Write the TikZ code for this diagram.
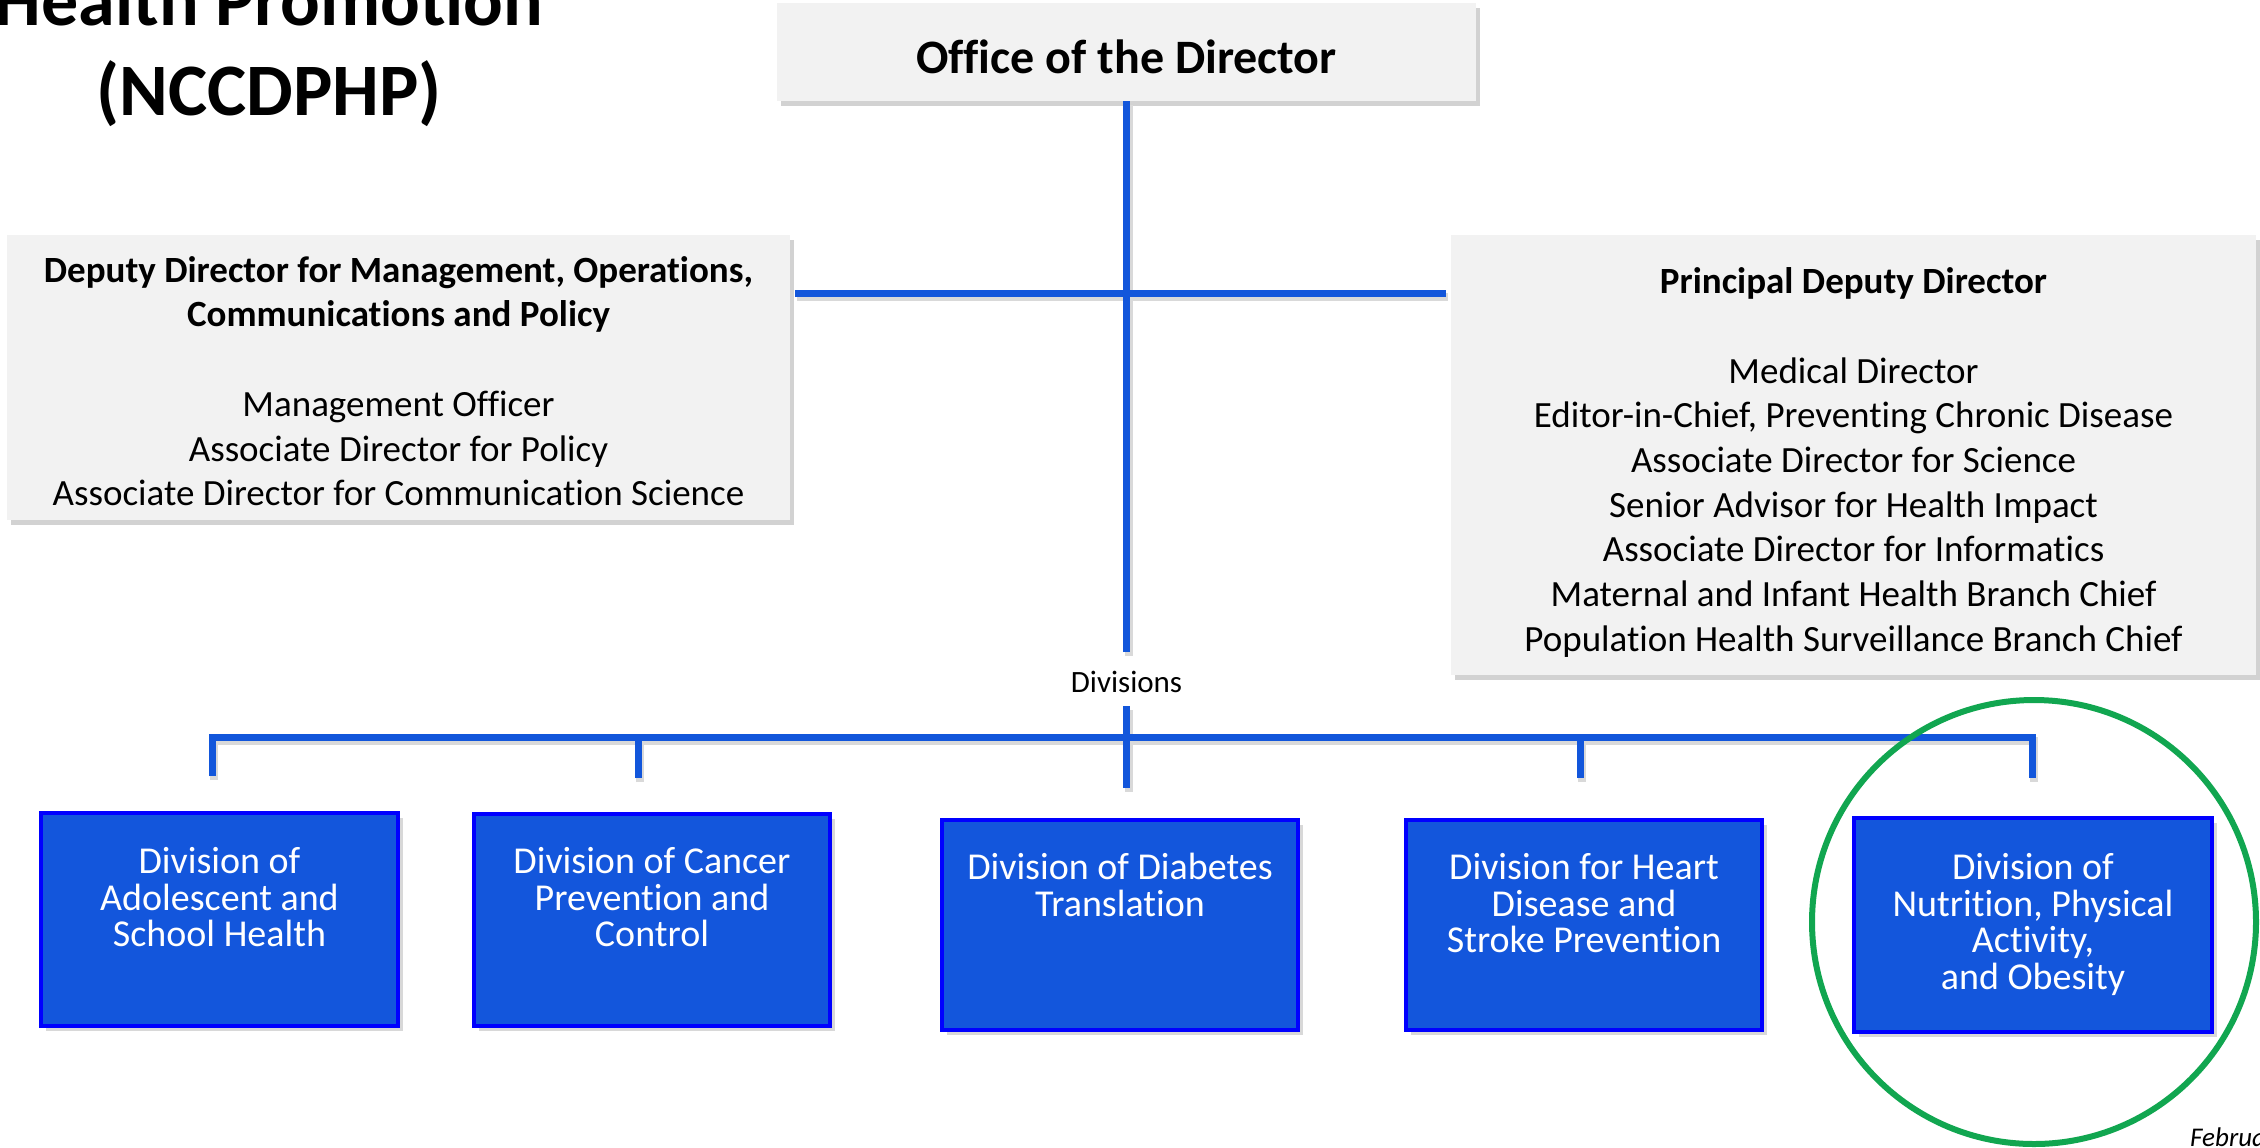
\documentclass[tikz,border=0pt]{standalone}
\usepackage{fontspec}
\setmainfont{Carlito}[Ligatures={NoCommon}]
\usetikzlibrary{shadows}
\definecolor{connblue}{RGB}{18,86,219}
\definecolor{divfill}{RGB}{19,86,220}
\definecolor{divborder}{RGB}{0,0,255}
\definecolor{greybox}{RGB}{242,242,242}
\definecolor{ringgreen}{RGB}{17,166,80}
\newcommand{\firststrut}{\rule{0pt}{0.75em}}
\newcommand{\connpaths}[1]{%
  \draw[#1] (office.south) -- (topend);
  \draw[#1] (hl) -- (hr);
  \draw[#1,line join=miter] (s1) |- (bus) -| (s5);
  \draw[#1] (s2) -- (s2 |- bus);
  \draw[#1] (s4) -- (s4 |- bus);
  \draw[#1] (ctop) -- (s3);
}
\begin{document}
\begin{tikzpicture}[x=1bp,y=-1bp,
  conn/.style={draw=connblue,line width=7bp},
  connshade/.style={draw=black!15,line width=8bp},
  graybox/.style={rectangle,fill=greybox,draw=none,inner sep=0,
    drop shadow={shadow xshift=4bp,shadow yshift=-5bp,opacity=0.35}},
  divbox/.style={rectangle,fill=divfill,draw=divborder,line width=3.5bp,
    minimum width=356bp,minimum height=212bp,inner sep=0,
    drop shadow={shadow xshift=5bp,shadow yshift=-5bp,opacity=0.3}},
  divtext/.style={anchor=north,inner sep=0,align=center,text=white,
    font=\fontsize{38bp}{36.8bp}\selectfont},
  boxtext/.style={anchor=north,inner sep=0,align=center,
    font=\fontsize{37bp}{44.7bp}\selectfont},
]
\useasboundingbox (0,0) rectangle (2260,1147);
\clip (0,0) rectangle (2260,1147);
\fill[white] (0,0) rectangle (2260,1147);

% title
\node[anchor=north,inner sep=0,align=center,
  font=\fontsize{74bp}{90bp}\selectfont\bfseries] (title) at (269,-30.5)
  {\firststrut Health Promotion\\(NCCDPHP)};

% grey boxes
\node[graybox,minimum width=699bp,minimum height=98bp] (office) at (1126.5,52) {};
\node[anchor=base,inner sep=0,font=\fontsize{48bp}{58bp}\selectfont\bfseries]
  (officetext) at (1126.5,73) {Office of the Director};

\node[graybox,minimum width=783bp,minimum height=285bp] (dep) at (398.5,377.5) {};
\node[boxtext] (deptext) at (398.5,254.25)
  {\firststrut\textbf{Deputy Director for Management, Operations,}\\
   \textbf{Communications and Policy}\\[44.7bp]
   Management Officer\\
   Associate Director for Policy\\
   Associate Director for Communication Science};

\node[graybox,minimum width=805bp,minimum height=440bp] (pdd) at (1853.5,455) {};
\node[boxtext] (pddtext) at (1853.5,265.75)
  {\firststrut\textbf{Principal Deputy Director}\\[44.7bp]
   Medical Director\\
   Editor-in-Chief, Preventing Chronic Disease\\
   Associate Director for Science\\
   Senior Advisor for Health Impact\\
   Associate Director for Informatics\\
   Maternal and Infant Health Branch Chief\\
   Population Health Surveillance Branch Chief};

% divisions label
\node[anchor=base,inner sep=0,font=\fontsize{31bp}{38bp}\selectfont]
  (divlabel) at (1126.5,692) {Divisions};

% connector coordinates
\coordinate (topend) at (1126.5,652);
\coordinate (hy) at (1126.5,293);
\path (dep.east |- hy) ++(5,0) coordinate (hl);
\path (pdd.west |- hy) ++(-5,0) coordinate (hr);
\coordinate (bus) at (1126.5,737);
\coordinate (ctop) at (1126.5,706);
\coordinate (s1) at (212,776);
\coordinate (s2) at (638,778);
\coordinate (s3) at (1126.5,788);
\coordinate (s4) at (1580,778);
\coordinate (s5) at (2032,778);

\begin{scope}[transform canvas={shift={(2bp,-4bp)}}]
  \connpaths{connshade}
\end{scope}
\connpaths{conn}

% division boxes
\node[divbox,minimum width=357bp,minimum height=213bp] (d1) at (219.5,919.5) {};
\node[divtext] (d1t) at (219.5,844.5)
  {\firststrut Division of\\Adolescent and\\School Health};
\node[divbox] (d2) at (652,920) {};
\node[divtext] (d2t) at (652,844.5)
  {\firststrut Division of Cancer\\Prevention and\\Control};
\node[divbox,minimum height=210bp] (d3) at (1120,925) {};
\node[divtext] (d3t) at (1120,850.5)
  {\firststrut Division of Diabetes\\Translation};
\node[divbox,minimum height=210bp] (d4) at (1584,925) {};
\node[divtext] (d4t) at (1584,850.5)
  {\firststrut Division for Heart\\Disease and\\Stroke Prevention};
\node[divbox,minimum width=358bp,minimum height=214bp] (d5) at (2033,925) {};
\node[divtext] (d5t) at (2033,850.5)
  {\firststrut Division of\\Nutrition, Physical\\Activity,\\and Obesity};

% highlight ring
\node[circle,draw=ringgreen,line width=6bp,minimum size=444bp,inner sep=0]
  (ring) at (2034,922) {};

% date
\node[anchor=base west,inner sep=0,font=\fontsize{27bp}{32bp}\selectfont\itshape]
  (date) at (2190,1146) {February};
\end{tikzpicture}
\end{document}
